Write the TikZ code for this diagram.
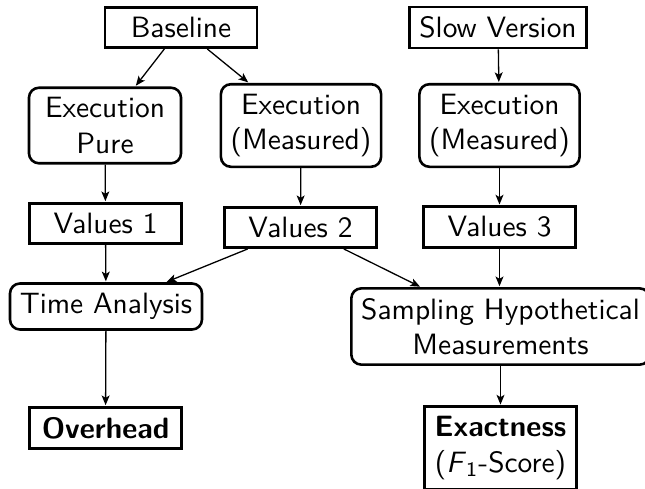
\documentclass[tikz,border=0pt]{standalone}
\usetikzlibrary{arrows.meta}
\begin{document}
\begin{tikzpicture}[x=0.34pt,y=-0.34pt,
  font=\sffamily,
  box/.style={draw, line width=0.88pt, minimum width=51.7pt, align=center, fill=white},
  roundbox/.style={box, rounded corners=3.4pt},
  flow/.style={-{Stealth[length=3.3pt,width=2.7pt,inset=0.8pt]}, line width=0.44pt, shorten >=0.3pt}]
  \useasboundingbox (0,0) rectangle (645,488);

  % sources
  \node[box] (base) at (181,27.5) {Baseline};
  \node[box] (slow) at (498,27.5) {Slow Version};

  % executions
  \node[roundbox] (pure) at (105,125.5) {Execution\\Pure};
  \node[roundbox] (meas) at (301,125.5) {Execution\\(Measured)};
  \node[roundbox] (smeas) at (499.5,125.5) {Execution\\(Measured)};

  % collected values
  \node[box] (v1) at (105.5,223.5) {Values 1};
  \node[box] (v2) at (300.5,227.5) {Values 2};
  \node[box] (v3) at (499.5,227) {Values 3};

  % analyses
  \node[roundbox] (time) at (106,306.5) {Time Analysis};
  \node[roundbox] (samp) at (500.5,326.5) {Sampling Hypothetical\\Measurements};

  % results
  \node[box] (over) at (105.5,428) {\bfseries Overhead};
  \node[box] (exact) at (500.5,448) {\bfseries Exactness\\(\textit{F}\textsubscript{1}-Score)};

  % connectors
  \draw[flow] (base) -- (pure);
  \draw[flow] (base) -- (meas);
  \draw[flow] (slow) -- (smeas);
  \draw[flow] (pure) -- (v1);
  \draw[flow] (meas) -- (v2);
  \draw[flow] (smeas) -- (v3);
  \draw[flow] (v1) -- (time);
  \draw[flow] (v2) -- (time);
  \draw[flow] (v2) -- (samp);
  \draw[flow] (v3) -- (samp.north -| v3);
  \draw[flow] (time) -- (over);
  \draw[flow] (samp.south -| exact) -- (exact);
\end{tikzpicture}
\end{document}
